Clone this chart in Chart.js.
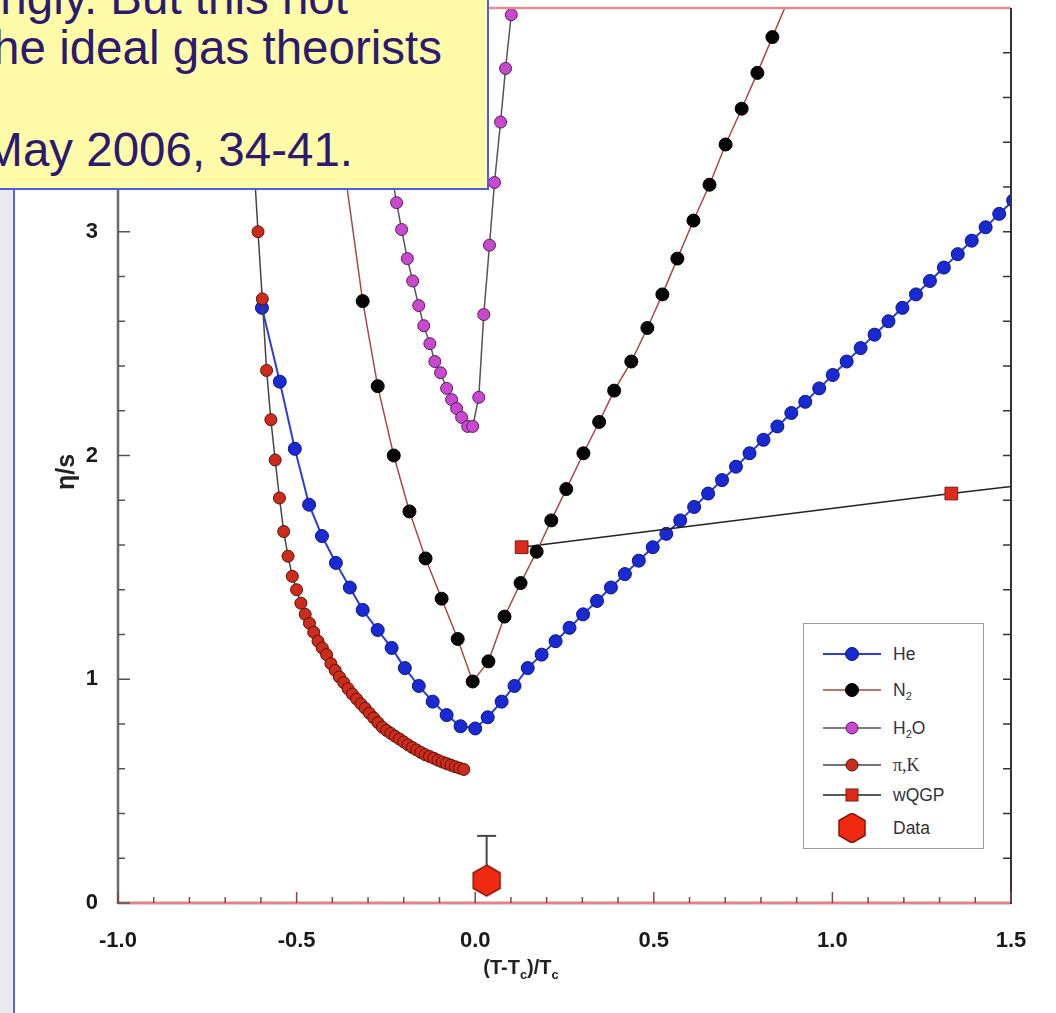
<!DOCTYPE html>
<html lang="en">
<head>
<meta charset="UTF-8">
<title>eta/s near the critical point</title>
<script src="https://cdn.jsdelivr.net/npm/chart.js"></script>
<style>
  body { margin: 0; padding: 0; background: #fff; font-family: "Liberation Sans", Arial, sans-serif; }
  #wrap { position: relative; width: 1056px; height: 1013px; overflow: hidden; background: #fff; }
  #slideEdge { position: absolute; left: 0; top: 0; width: 13px; height: 1013px; background: #ebebef; }
  #slideLine { position: absolute; left: 13px; top: 0; width: 2px; height: 1013px; background: #5566e0; }
  #chartBox { position: absolute; left: 0; top: 0; width: 1056px; height: 1013px; }
  #note {
    position: absolute; left: -4px; top: -4px; width: 489px; height: 190px;
    background: #fffba8; border: 2px solid #4d5fe0; overflow: hidden;
    color: #2c1a70; font-size: 47.5px;
  }
  #note div { position: absolute; white-space: nowrap; line-height: 54px; }
  #legend {
    position: absolute; left: 803px; top: 623px; width: 179px; height: 224px;
    border: 1.5px solid #9a9a9a; background: #fff;
  }
  #legend .row { position: absolute; left: 0; height: 30px; width: 179px; }
  #legend svg { position: absolute; left: 0; top: 0; }
  #legend span { position: absolute; left: 89px; top: 0; line-height: 30px; font-size: 17.5px; color: #333; }
  #legend sub { font-size: 11px; vertical-align: -4px; line-height: 0; }
  #yTitle {
    position: absolute; left: 15px; top: 457px; width: 100px; height: 30px; line-height: 30px;
    text-align: center; font-weight: bold; font-size: 25px; color: #222; transform: rotate(-90deg);
  }
  #xTitle {
    position: absolute; left: 421px; top: 956px; width: 200px; text-align: center;
    font-weight: bold; font-size: 20px; color: #222;
  }
  #xTitle sub { font-size: 13px; vertical-align: -5px; line-height: 0; }
</style>
</head>
<body>
<div id="wrap">
  <div id="slideEdge"></div>
  <div id="slideLine"></div>
  <div id="chartBox"><canvas id="etaChart"></canvas></div>
  <div id="yTitle">η/s</div>
  <div id="xTitle">(T-T<sub>c</sub>)/T<sub>c</sub></div>
  <div id="legend"></div>
  <div id="note">
    <div style="right:139px; top:-27px;">ngly. But this not</div>
    <div style="right:45px; top:23px;">he ideal gas theorists</div>
    <div style="right:134px; top:125px;">May 2006, 34-41.</div>
  </div>
</div>
<script>
// axis ticks and ranges
const xTicks = [-1.0, -0.5, 0.0, 0.5, 1.0, 1.5];
const yTicks = [0, 1, 2, 3];
const yMax = 4;

// He
const heT = [-0.597,-0.547,-0.505,-0.465,-0.429,-0.390,-0.351,-0.315,-0.273,-0.234,
  -0.197,-0.158,-0.119,-0.080,-0.041,0.000,0.035,0.074,0.110,0.147,
  0.186,0.225,0.264,0.302,0.341,0.380,0.419,0.458,0.497,0.535,
  0.574,0.613,0.652,0.691,0.730,0.768,0.807,0.846,0.885,0.924,
  0.963,1.001,1.040,1.079,1.118,1.157,1.196,1.234,1.273,1.312,
  1.351,1.390,1.429,1.467,1.506];
const heEta = [2.66,2.33,2.03,1.78,1.64,1.52,1.41,1.31,1.22,1.14,
  1.05,0.97,0.90,0.84,0.79,0.78,0.83,0.90,0.97,1.05,
  1.11,1.17,1.23,1.29,1.35,1.41,1.47,1.53,1.59,1.65,
  1.71,1.77,1.83,1.89,1.95,2.01,2.07,2.13,2.19,2.24,
  2.30,2.36,2.42,2.48,2.54,2.60,2.66,2.72,2.78,2.84,
  2.90,2.96,3.02,3.08,3.14];

// N2
const n2T = [-0.420,-0.372,-0.315,-0.273,-0.228,-0.184,-0.139,-0.094,-0.049,-0.007,
  0.037,0.082,0.127,0.172,0.213,0.255,0.303,0.347,0.389,0.437,
  0.482,0.524,0.566,0.611,0.656,0.701,0.746,0.790,0.832,0.877];
const n2Eta = [4.10,3.35,2.69,2.31,2.00,1.75,1.54,1.36,1.18,0.99,
  1.08,1.28,1.43,1.57,1.71,1.85,2.01,2.15,2.29,2.42,
  2.57,2.72,2.88,3.05,3.21,3.39,3.55,3.71,3.87,4.04];

// H2O
const h2oT = [-0.295,-0.280,-0.265,-0.250,-0.235,-0.220,-0.206,-0.190,-0.175,-0.158,
  -0.144,-0.127,-0.113,-0.097,-0.080,-0.066,-0.052,-0.038,-0.021,-0.007,
  0.010,0.024,0.040,0.054,0.071,0.085,0.101];
const h2oEta = [3.92,3.75,3.58,3.42,3.27,3.13,3.01,2.88,2.78,2.67,
  2.58,2.50,2.42,2.37,2.30,2.25,2.21,2.17,2.13,2.13,
  2.26,2.63,2.94,3.22,3.49,3.73,3.97];

// pi,K hadron gas
const pikT = [-0.632,-0.620,-0.608,-0.596,-0.584,-0.572,-0.560,-0.548,-0.536,-0.524,
  -0.512,-0.500,-0.488,-0.476,-0.464,-0.452,-0.440,-0.428,-0.416,-0.404,
  -0.392,-0.380,-0.368,-0.356,-0.344,-0.332,-0.320,-0.308,-0.296,-0.284,
  -0.272,-0.260,-0.248,-0.236,-0.224,-0.212,-0.200,-0.188,-0.176,-0.164,
  -0.152,-0.140,-0.128,-0.116,-0.104,-0.092,-0.080,-0.068,-0.056,-0.044,
  -0.032];
const pikEta = [3.72,3.32,3.00,2.70,2.38,2.16,1.98,1.81,1.66,1.55,
  1.46,1.40,1.34,1.29,1.25,1.21,1.17,1.14,1.11,1.07,
  1.04,1.01,0.985,0.958,0.934,0.912,0.890,0.870,0.848,0.827,
  0.806,0.786,0.771,0.758,0.745,0.733,0.720,0.707,0.695,0.684,
  0.673,0.663,0.655,0.647,0.638,0.630,0.623,0.616,0.609,0.603,
  0.597];

// weakly coupled QGP
const qgpT = [0.130, 1.333, 1.600];
const qgpEta = [1.59, 1.83, 1.88];

// measured point with upper error
const dataT = [0.032];
const dataEta = [0.10];
const dataErrHi = [0.30];

function pairs(xs, ys) {
  return xs.map((v, i) => ({ x: v, y: ys[i] }));
}

// hexagon marker (pointy top) for the Data point
function hexPoints(cx, cy, r) {
  const pts = [];
  for (let k = 0; k < 6; k++) {
    const a = (Math.PI / 180) * (60 * k - 90);
    pts.push([cx + r * Math.cos(a), cy + r * Math.sin(a)]);
  }
  return pts;
}
function makeHex(r, fill, stroke) {
  const c = document.createElement('canvas');
  c.width = c.height = Math.ceil(r * 2 + 4);
  const g = c.getContext('2d');
  const m = c.width / 2;
  g.beginPath();
  hexPoints(m, m, r).forEach((p, i) => i ? g.lineTo(p[0], p[1]) : g.moveTo(p[0], p[1]));
  g.closePath();
  g.fillStyle = fill;
  g.fill();
  g.lineWidth = 1.5;
  g.strokeStyle = stroke;
  g.stroke();
  return c;
}
const hexImg = makeHex(15.5, '#f02a10', '#8a1408');

// series styles, shared with the legend
const styles = {
  he:   { line: '#2a3ed8', lw: 2,   fill: '#1a2ad2', edge: '#0c1580', r: 6.5, shape: 'circle' },
  n2:   { line: '#a84a4a', lw: 1.5, fill: '#050505', edge: '#000',    r: 6.5, shape: 'circle' },
  h2o:  { line: '#555',    lw: 1.5, fill: '#c848d0', edge: '#5a1a5a', r: 6,   shape: 'circle' },
  pik:  { line: '#444',    lw: 1.5, fill: '#cc2c1c', edge: '#5a1008', r: 6,   shape: 'circle' },
  qgp:  { line: '#222',    lw: 1.5, fill: '#dd2a1a', edge: '#7a1a10', r: 9,   shape: 'rect' }
};

function lineSet(label, xs, ys, s, extra) {
  return Object.assign({
    label: label,
    data: pairs(xs, ys),
    showLine: true,
    tension: 0,
    borderColor: s.line,
    borderWidth: s.lw,
    pointBackgroundColor: s.fill,
    pointBorderColor: s.edge,
    pointBorderWidth: 1,
    pointRadius: s.r,
    pointStyle: s.shape,
    clip: 0
  }, extra || {});
}

// inner tick marks and the coloured frame
const frameTicks = {
  id: 'frameTicks',
  afterDraw(chart) {
    const { ctx, chartArea: a, scales: { x, y } } = chart;
    const seg = (x1, y1, x2, y2) => { ctx.beginPath(); ctx.moveTo(x1, y1); ctx.lineTo(x2, y2); ctx.stroke(); };
    ctx.save();
    ctx.lineCap = 'butt';

    // frame
    ctx.strokeStyle = '#e28c8c'; ctx.lineWidth = 2.5;
    seg(a.left, a.top, a.right, a.top);
    ctx.strokeStyle = '#e08585'; ctx.lineWidth = 3;
    seg(a.left, a.bottom, a.right, a.bottom);
    ctx.strokeStyle = '#6a6a6a'; ctx.lineWidth = 2.5;
    seg(a.left, a.top, a.left, a.bottom + 1);
    ctx.strokeStyle = '#333'; ctx.lineWidth = 2;
    seg(a.right, a.top, a.right, a.bottom + 1);

    // bottom ticks, every 0.1
    ctx.strokeStyle = '#7a4a4a'; ctx.lineWidth = 1.5;
    for (let i = -10; i <= 15; i++) {
      const px = x.getPixelForValue(i / 10);
      seg(px, a.bottom, px, a.bottom - (i % 5 === 0 ? 11 : 6));
    }
    // left ticks, every 0.2
    ctx.strokeStyle = '#555';
    for (let i = 0; i <= 20; i++) {
      const py = y.getPixelForValue(i / 5);
      seg(a.left, py, a.left + (i % 5 === 0 ? 12 : 7), py);
    }
    // right ticks, every 0.2
    ctx.strokeStyle = '#333';
    for (let i = 1; i <= 19; i++) {
      const py = y.getPixelForValue(i / 5);
      seg(a.right, py, a.right - 8, py);
    }
    ctx.restore();
  }
};

Chart.defaults.font.family = '"Liberation Sans", Arial, sans-serif';

const ctx = document.getElementById('etaChart').getContext('2d');
const etaChart = new Chart(ctx, {
  type: 'scatter',
  data: {
    datasets: [
      {
        label: 'Data',
        data: pairs(dataT, dataEta),
        pointStyle: hexImg,
        pointRadius: 15,
        showLine: false,
        clip: 0
      },
      {
        label: 'err',
        data: [{ x: dataT[0], y: dataEta[0] }, { x: dataT[0], y: dataErrHi[0] }],
        showLine: true,
        borderColor: '#444',
        borderWidth: 2,
        pointStyle: 'line',
        pointRadius: [0, 9.5],
        pointBorderColor: '#444',
        pointBorderWidth: 2,
        clip: 0
      },
      lineSet('N2', n2T, n2Eta, styles.n2),
      lineSet('wQGP', qgpT, qgpEta, styles.qgp, { pointRadius: [9, 9, 0] }),
      lineSet('pi,K', pikT, pikEta, styles.pik),
      lineSet('He', heT, heEta, styles.he),
      lineSet('H2O', h2oT, h2oEta, styles.h2o)
    ]
  },
  options: {
    responsive: true,
    maintainAspectRatio: false,
    animation: false,
    layout: { autoPadding: false, padding: { left: 0, right: 45, top: 8, bottom: 0 } },
    plugins: {
      legend: { display: false },
      tooltip: { enabled: false }
    },
    scales: {
      x: {
        type: 'linear',
        min: xTicks[0],
        max: xTicks[xTicks.length - 1],
        afterFit: s => { s.height = 110; s.paddingLeft = 0; s.paddingRight = 0; },
        afterBuildTicks: s => { s.ticks = xTicks.map(v => ({ value: v })); },
        grid: { display: false, drawTicks: false },
        border: { display: false },
        ticks: {
          padding: 25,
          maxRotation: 0,
          autoSkip: false,
          color: '#1a1a1a',
          font: { size: 22, weight: 'bold' },
          callback: v => Number(v).toFixed(1)
        }
      },
      y: {
        type: 'linear',
        min: yTicks[0],
        max: yMax,
        afterFit: s => { s.width = 118; s.paddingTop = 0; s.paddingBottom = 0; },
        afterBuildTicks: s => { s.ticks = yTicks.map(v => ({ value: v })); },
        grid: { display: false, drawTicks: false },
        border: { display: false },
        ticks: {
          padding: 20,
          color: '#1a1a1a',
          font: { size: 22, weight: 'bold' },
          callback: v => String(v)
        }
      }
    }
  },
  plugins: [frameTicks]
});

// legend built from the same styles
const legendItems = [
  { key: 'he',  html: 'He', y: 30 },
  { key: 'n2',  html: 'N<sub>2</sub>', y: 66 },
  { key: 'h2o', html: 'H<sub>2</sub>O', y: 104 },
  { key: 'pik', html: '<span style="position:static;font-family:\'Liberation Serif\',serif;font-size:18px;">π,K</span>', y: 141 },
  { key: 'qgp', html: 'wQGP', y: 171 },
  { key: 'data', html: 'Data', y: 204 }
];
const legend = document.getElementById('legend');
legendItems.forEach(item => {
  const row = document.createElement('div');
  row.className = 'row';
  row.style.top = (item.y - 15) + 'px';
  let svg = '<svg width="86" height="30" viewBox="0 0 86 30">';
  if (item.key === 'data') {
    const pts = hexPoints(48, 15, 15).map(p => p.join(',')).join(' ');
    svg += '<polygon points="' + pts + '" fill="#f02a10" stroke="#8a1408" stroke-width="1.5"/>';
  } else {
    const s = styles[item.key];
    svg += '<line x1="19" y1="15" x2="77" y2="15" stroke="' + s.line + '" stroke-width="' + s.lw + '"/>';
    if (s.shape === 'rect') {
      svg += '<rect x="42" y="9" width="12" height="12" fill="' + s.fill + '" stroke="' + s.edge + '" stroke-width="1"/>';
    } else {
      svg += '<circle cx="48" cy="15" r="' + s.r + '" fill="' + s.fill + '" stroke="' + s.edge + '" stroke-width="1"/>';
    }
  }
  svg += '</svg>';
  row.innerHTML = svg + '<span>' + item.html + '</span>';
  legend.appendChild(row);
});
</script>
</body>
</html>
